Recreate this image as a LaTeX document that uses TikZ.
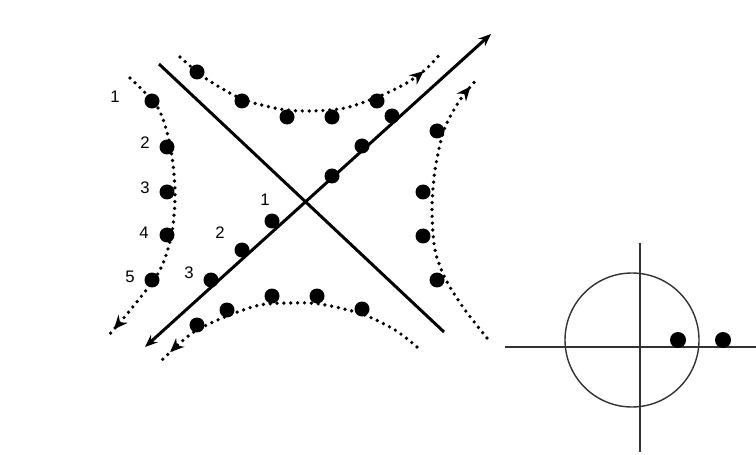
\documentclass[tikz,border=0pt]{standalone}
\usepackage{fontspec}
\setmainfont{Liberation Sans}
\usetikzlibrary{arrows.meta,decorations.markings}

\tikzset{
  bead/.style={circle,fill=black,inner sep=0pt,minimum size=0.3cm},
  axis/.style={line width=1.7pt},
  thinaxis/.style={line width=0.8pt,black!80},
  orbit/.style={line width=2.1pt,line cap=round,dash pattern=on 0pt off 3.9pt,
    postaction={decorate},
    decoration={markings,mark=at position #1 with {\pgfsetdash{}{0pt}\arrow{Stealth[length=0.28cm,width=0.24cm]}}}},
  num/.style={font=\fontsize{9.5}{10}\selectfont,inner sep=0pt},
}

\begin{document}
\begin{tikzpicture}[x=0.02cm, y=-0.02cm]
  \useasboundingbox (0,0) rectangle (756,455);
  % saddle lines
  \coordinate (sw) at (145,347);
  \coordinate (ne) at (491,34);
  \coordinate (nw) at (159,64);
  \coordinate (se) at (444,332);
  \draw[axis,{Stealth[length=0.25cm,width=0.2cm]}-{Stealth[length=0.25cm,width=0.2cm]}] (sw) -- (ne);
  \draw[axis] (nw) -- (se);
  % orbits
  \draw[orbit=0.97] plot[smooth] coordinates {(130,78) (158,108) (170,145) (175,190) (172,232) (160,270) (132,308) (108,336)};
  \draw[orbit=0.91] plot[smooth] coordinates {(180,57) (205,78) (242,99) (280,109) (310,111) (345,108) (380,96) (405,84) (425,70) (442,52)};
  \draw[orbit=0.96] plot[smooth] coordinates {(487,338) (465,310) (446,280) (435,250) (432,210) (435,170) (444,130) (460,100) (478,78)};
  \draw[orbit=0.96] plot[smooth] coordinates {(417,347) (395,330) (362,314) (320,304) (290,303) (260,305) (227,316) (197,330) (180,343) (162,360)};
  % beads
  \foreach \x/\y [count=\i] in {152/101,167/147,167/192,167/235,152/280}
    \node[bead] (l\i) at (\x,\y) {};
  \foreach \x/\y [count=\i] in {197/72,242/101,287/117,332/117,377/101}
    \node[bead] (t\i) at (\x,\y) {};
  \foreach \x/\y [count=\i] in {437/131,423/192,423/236,437/280}
    \node[bead] (r\i) at (\x,\y) {};
  \foreach \x/\y [count=\i] in {197/325,227/310,272/296,317/296,362/309}
    \node[bead] (b\i) at (\x,\y) {};
  \foreach \x/\y [count=\i] in {272/221,242/250,211/280,332/176,362/146,392/116}
    \node[bead] (d\i) at (\x,\y) {};
  % labels
  \node[num] (ln1) at (115,97) {1};
  \node[num] (ln2) at (145,143) {2};
  \node[num] (ln3) at (145,188) {3};
  \node[num] (ln4) at (144,233) {4};
  \node[num] (ln5) at (130,277) {5};
  \node[num] (dn1) at (265,200) {1};
  \node[num] (dn2) at (220,233) {2};
  \node[num] (dn3) at (189,273) {3};
  % unit circle
  \coordinate (top) at (640,243);
  \coordinate (bot) at (640,452);
  \coordinate (lft) at (505,347);
  \coordinate (rgt) at (756,347);
  \draw[thinaxis] (top) -- (bot);
  \draw[thinaxis] (lft) -- (rgt);
  \draw[thinaxis] (632,340) circle[radius=67];
  \node[bead,minimum size=0.32cm] (e1) at (678,340) {};
  \node[bead,minimum size=0.32cm] (e2) at (723,340) {};
\end{tikzpicture}
\end{document}
